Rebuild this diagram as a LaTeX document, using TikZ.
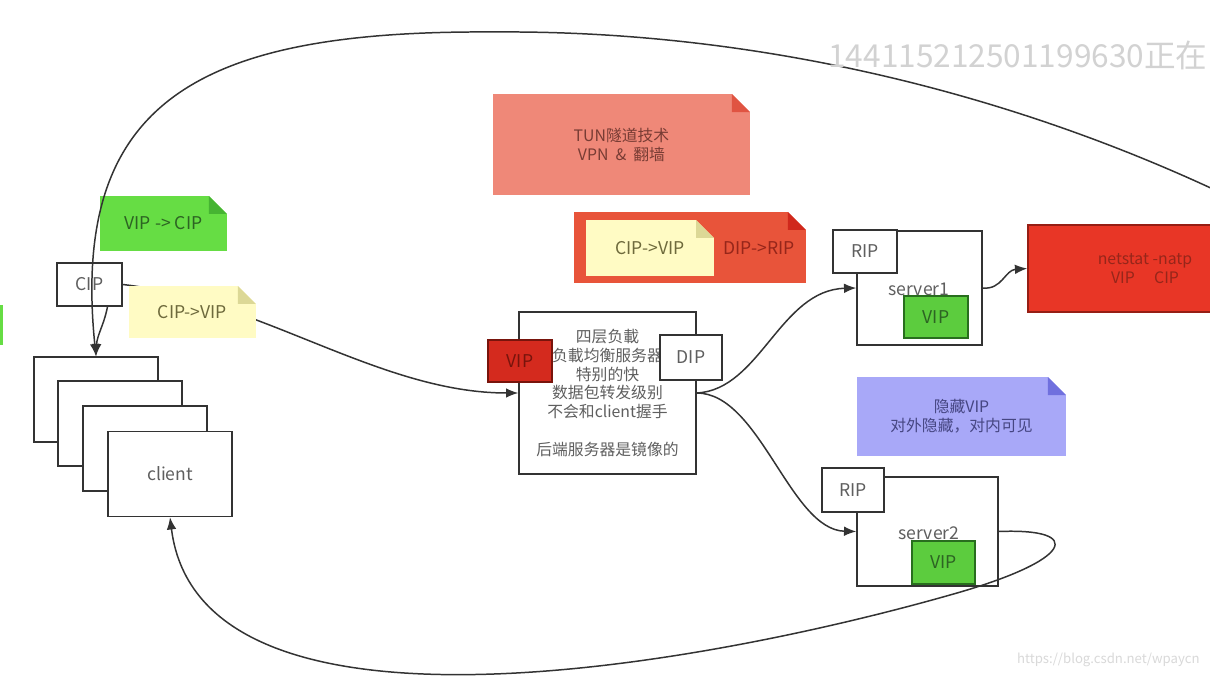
\documentclass[tikz,border=0pt]{standalone}
\usepackage{fontspec}
\setmainfont{Noto Sans CJK SC}
\usetikzlibrary{arrows.meta}
\definecolor{lineGray}{RGB}{51,51,51}
\definecolor{textGray}{RGB}{95,95,95}
\definecolor{noteSalmon}{RGB}{239,136,120}
\definecolor{salmonFold}{RGB}{224,84,66}
\definecolor{salmonText}{RGB}{120,60,52}
\definecolor{noteRed}{RGB}{232,84,58}
\definecolor{redFold}{RGB}{208,40,28}
\definecolor{redText}{RGB}{150,38,26}
\definecolor{noteYellow}{RGB}{255,251,196}
\definecolor{yellowFold}{RGB}{220,216,150}
\definecolor{yellowText}{RGB}{110,106,60}
\definecolor{noteGreen}{RGB}{102,221,68}
\definecolor{greenFold}{RGB}{70,180,50}
\definecolor{greenText}{RGB}{45,100,35}
\definecolor{noteBlue}{RGB}{168,168,248}
\definecolor{blueFold}{RGB}{112,112,222}
\definecolor{blueText}{RGB}{70,70,130}
\definecolor{vipGreen}{RGB}{92,204,62}
\definecolor{vipGreenLine}{RGB}{40,110,30}
\definecolor{vipRed}{RGB}{212,42,30}
\definecolor{vipRedLine}{RGB}{120,20,12}
\definecolor{netRed}{RGB}{232,54,38}
\definecolor{netRedLine}{RGB}{150,30,20}
\tikzset{
  box/.style={draw=lineGray,line width=.8pt,fill=white,inner sep=0pt,text=textGray,font=\fontsize{10}{12}\selectfont},
  note/.style 2 args={inner sep=0pt,align=center,font=\fontsize{9}{10.8}\selectfont,
    path picture={
      \fill[#1] (path picture bounding box.south west) -- (path picture bounding box.north west) -- ([xshift=-.36cm]path picture bounding box.north east) -- ([yshift=-.36cm]path picture bounding box.north east) -- (path picture bounding box.south east) -- cycle;
      \fill[#2] ([xshift=-.36cm]path picture bounding box.north east) -- ([yshift=-.36cm]path picture bounding box.north east) -- ([xshift=-.36cm,yshift=-.36cm]path picture bounding box.north east) -- cycle;}},
  vipbox/.style 2 args={draw=#2,line width=.9pt,fill=#1,inner sep=0pt,font=\fontsize{10}{12}\selectfont},
  label/.style={inner sep=0pt,text=textGray,font=\fontsize{10}{12}\selectfont},
  link/.style={draw=lineGray,line width=.85pt,-{Latex[length=7pt,width=5.5pt]}}
}
\begin{document}
\begin{tikzpicture}[x=0.02cm,y=-0.02cm]
\path[use as bounding box,fill=white] (0,0) rectangle (1210,678);
\clip (0,0) rectangle (1210,678);
\fill[noteGreen] (0,305) rectangle (3,345);

\node[note={noteSalmon}{salmonFold},minimum width=5.14cm,minimum height=2.02cm,text=salmonText] (tun) at (621.5,144.5) {TUN隧道技术\\VPN \ \& \ 翻墙};
\node[note={noteRed}{redFold},minimum width=4.64cm,minimum height=1.42cm] (tunPkt) at (690,247.5) {};
\node[note={noteYellow}{yellowFold},minimum width=2.56cm,minimum height=1.12cm,text=yellowText,font=\fontsize{10}{12}\selectfont] (tunCip) at (650,248) {CIP->VIP};
\node[label,text=redText] (tunDip) at (759,248) {DIP->RIP};
\node[note={noteGreen}{greenFold},minimum width=2.54cm,minimum height=1.10cm,text=greenText,font=\fontsize{10}{12}\selectfont] (vipCip) at (163.5,223.5) {VIP -> CIP};
\node[note={noteBlue}{blueFold},minimum width=4.18cm,minimum height=1.58cm,text=blueText] (hideVip) at (961.5,416.5) {隐藏VIP\\对外隐藏，对内可见};

\node[box,minimum width=2.48cm,minimum height=1.70cm] (stack1) at (96,399.5) {};
\node[box,minimum width=2.48cm,minimum height=1.70cm] (stack2) at (120,423.5) {};
\node[box,minimum width=2.48cm,minimum height=1.70cm] (stack3) at (145,448.5) {};
\node[box,minimum width=2.48cm,minimum height=1.70cm] (client) at (170,474) {client};
\node[box,minimum width=1.30cm,minimum height=.86cm] (cip) at (89.5,284.5) {CIP};

\node[box,minimum width=3.54cm,minimum height=3.24cm,align=center,font=\fontsize{9}{10.8}\selectfont] (lb) at (607.5,393) {四层负載\\负載均衡服务器\\特别的快\\数据包转发级别\\不会和client握手\\[10.8pt]后端服务器是镜像的};
\node[vipbox={vipRed}{vipRedLine},minimum width=1.28cm,minimum height=.84cm,text=vipRedLine] (lbVip) at (520,361) {VIP};
\node[box,minimum width=1.24cm,minimum height=.90cm] (lbDip) at (691,357.5) {DIP};

\node[box,minimum width=2.50cm,minimum height=2.28cm] (s1) at (919.5,288) {};
\node[box,minimum width=1.28cm,minimum height=.86cm] (s1Rip) at (865,251.5) {RIP};
\node[label] (s1Name) at (919,289) {server1};
\node[vipbox={vipGreen}{vipGreenLine},minimum width=1.28cm,minimum height=.84cm,text=greenText] (s1Vip) at (936,317) {VIP};
\node[vipbox={netRed}{netRedLine},minimum width=4.68cm,minimum height=1.74cm,align=center,text=redText,font=\fontsize{9}{10.8}\selectfont] (net) at (1145,268.5) {netstat -natp\\VIP \quad CIP};

\node[box,minimum width=2.82cm,minimum height=2.18cm] (s2) at (927.5,531.5) {};
\node[box,minimum width=1.24cm,minimum height=.88cm] (s2Rip) at (853,490) {RIP};
\node[label] (s2Name) at (929,533) {server2};
\node[vipbox={vipGreen}{vipGreenLine},minimum width=1.26cm,minimum height=.86cm,text=greenText] (s2Vip) at (943.5,562.5) {VIP};

\coordinate (loopIn) at (1215,190);
\draw[link] (loopIn) .. controls (1000,90) and (750,30) .. (494,32) .. controls (200,30) and (70,100) .. (stack1.north);
\draw[link] ([xshift=.36cm]cip.south) .. controls (104,325) and (97,335) .. (stack1.north);
\draw[link] (cip.east) .. controls (260,300) and (380,393) .. (lb.west);
\draw[link] (lb.east) .. controls (760,390) and (780,290) .. (s1.west);
\draw[link] (lb.east) .. controls (760,393) and (790,530) .. (s2.west);
\draw[link] (s1.east) .. controls (1002,290) and (1005,270) .. (net.west);
\draw[link] (s2.east) .. controls (1085,528) and (1075,560) .. (950,595) .. controls (700,666) and (200,758) .. (client.south);

\node[note={noteYellow}{yellowFold},minimum width=2.54cm,minimum height=1.04cm,text=yellowText,font=\fontsize{10}{12}\selectfont] (cipVip) at (192.5,312) {CIP->VIP};

\node[anchor=west,inner sep=0pt,text=gray!35,font=\fontsize{18}{20}\selectfont] (mark) at (828,55) {144115212501199630正在};
\node[anchor=east,inner sep=0pt,text=gray!30,font=\fontsize{7.5}{9}\selectfont] (blog) at (1200,660) {https://blog.csdn.net/wpaycn};
\end{tikzpicture}
\end{document}
